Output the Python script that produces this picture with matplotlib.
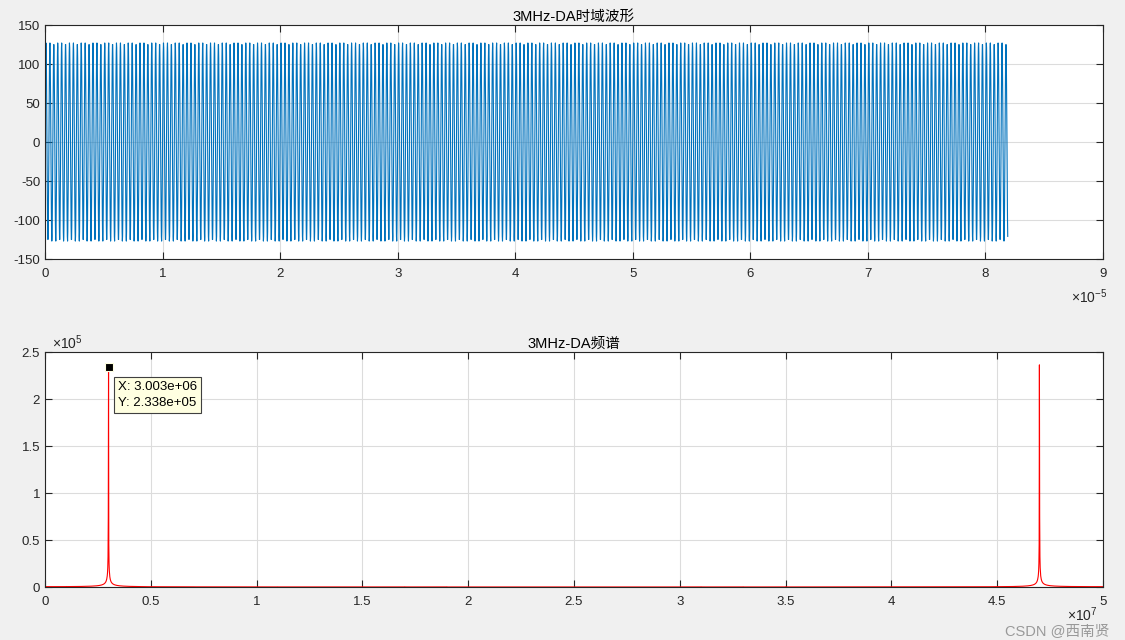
import numpy as np
import matplotlib
matplotlib.use("Agg")
import matplotlib.pyplot as plt

plt.rcParams['font.family'] = ['Liberation Sans', 'Noto Sans CJK SC', 'DejaVu Sans']
plt.rcParams['font.size'] = 9.5
plt.rcParams['axes.unicode_minus'] = False
plt.rcParams['mathtext.fontset'] = 'custom'
plt.rcParams['mathtext.rm'] = 'Liberation Sans'

# signal: 8-bit DA tone, 4096 samples at 50 MHz
sample_rate = 50e6
n_samples = 4096
tone_freq = 3e6
amplitude = 127

# data tip shown on the spectrum
tip_x = 3.003e6
tip_y = 2.338e5

titles = ["3MHz-DA时域波形", "3MHz-DA频谱"]
top_yticks = [-150, -100, -50, 0, 50, 100, 150]
top_xticks = [0, 1, 2, 3, 4, 5, 6, 7, 8, 9]
bot_xticks = [0, 0.5, 1, 1.5, 2, 2.5, 3, 3.5, 4, 4.5, 5]
bot_yticks = [0, 0.5, 1, 1.5, 2, 2.5]

t = np.arange(n_samples) / sample_rate
da = np.round(amplitude * np.sin(2 * np.pi * tone_freq * t))
spec = np.abs(np.fft.fft(da))
freq = np.arange(n_samples) * sample_rate / n_samples

axcol = "#262626"
fig = plt.figure(figsize=(11.25, 6.4), dpi=100, facecolor="#F0F0F0")
ax1 = fig.add_axes([0.04, 0.5953, 0.9404, 0.3656])
ax2 = fig.add_axes([0.04, 0.0828, 0.9404, 0.367])

ax1.plot(t / 1e-5, da, color="#0072BD", lw=0.8)
ax1.set_xlim(0, 9)
ax1.set_ylim(-150, 150)
ax1.set_xticks(top_xticks)
ax1.set_yticks(top_yticks)

ax2.plot(freq / 1e7, spec / 1e5, color="red", lw=0.8)
ax2.set_xlim(0, 5)
ax2.set_ylim(0, 2.5)
ax2.set_xticks(bot_xticks)
ax2.set_xticklabels(["0", "0.5", "1", "1.5", "2", "2.5", "3", "3.5", "4", "4.5", "5"])
ax2.set_yticks(bot_yticks)
ax2.set_yticklabels(["0", "0.5", "1", "1.5", "2", "2.5"])

for ax, title in zip([ax1, ax2], titles):
    ax.set_facecolor("white")
    ax.grid(True, color="#DCDCDC", lw=0.8)
    ax.set_axisbelow(True)
    ax.set_title(title, fontsize=10.5, color="black", pad=3)
    ax.tick_params(direction="in", top=True, right=True, length=5,
                   colors=axcol, labelcolor=axcol, labelsize=9.5)
    ax.tick_params(axis="x", pad=6.5)
    ax.tick_params(axis="y", pad=3.5)
    for s in ax.spines.values():
        s.set_color(axcol)
        s.set_linewidth(0.8)

# data tip
ax2.plot([tip_x / 1e7], [tip_y / 1e5], "s", color="black", ms=6,
         mec="#FFFFE1", mew=0.8, zorder=5)
ax2.annotate("X: 3.003e+06\nY: 2.338e+05", xy=(tip_x / 1e7, tip_y / 1e5),
             xytext=(7, -10), textcoords="offset points", va="top", ha="left",
             fontsize=9.5, linespacing=1.45,
             bbox=dict(boxstyle="square,pad=0.3", fc="#FFFFE1", ec="#404040", lw=0.8))

fig.text(0.968, 0.537, r"×10$^{\mathregular{-5}}$", ha="center", va="center", fontsize=10, color=axcol)
fig.text(0.06, 0.464, r"×10$^{\mathregular{5}}$", ha="center", va="center", fontsize=10, color=axcol)
fig.text(0.962, 0.04, r"×10$^{\mathregular{7}}$", ha="center", va="center", fontsize=10, color=axcol)
fig.text(0.986, 0.002, "CSDN @西南贤", ha="right", va="bottom", fontsize=10.5, color="#999999")

fig.savefig("out.png", dpi=100, facecolor=fig.get_facecolor())
